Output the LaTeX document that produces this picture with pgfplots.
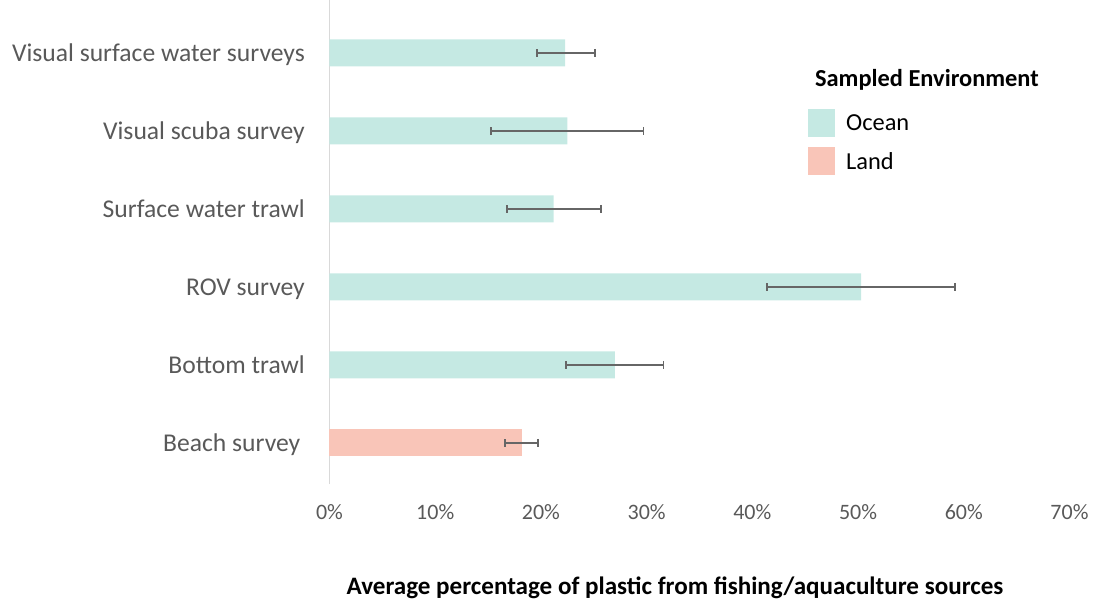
\documentclass[border=0pt]{standalone}
\usepackage{pgfplots}
\pgfplotsset{compat=1.18}
\usepackage{pgfplotstable}
\usepackage{fontspec}
\setmainfont{Carlito}
\definecolor{ocean}{HTML}{C5E9E3}
\definecolor{land}{HTML}{F9C5B8}
\definecolor{errc}{HTML}{666666}
\definecolor{lab}{HTML}{595959}
\definecolor{axl}{HTML}{D9D9D9}

\pgfplotstableread{
pos val ep em
1 27.0 4.6 4.6
2 50.3 8.9 8.9
3 21.2 4.5 4.4
4 22.5 7.2 7.2
5 22.3 2.8 2.7
}\oceantab
\pgfplotstableread{
pos val ep em
0 18.2 1.5 1.6
}\landtab

\pgfplotsset{myerr/.style={draw=none, mark=none, forget plot,
  error bars/.cd, x dir=both, x explicit, error mark=|,
  error bar style={draw=errc, line width=1.8pt},
  error mark options={draw=errc, mark size=4pt, line width=1.8pt, rotate=0}}}

\begin{document}
\begin{tikzpicture}
\begin{axis}[
 at={(0pt,0pt)}, anchor=north west,
 scale only axis, width=740pt, height=484pt,
 xmin=0, xmax=70, ymin=-0.526, ymax=5.679,
 clip=false,
 bar width=27pt, bar shift=0pt,
 axis x line*=bottom, axis y line*=left,
 x axis line style={draw=none},
 y axis line style={draw=axl, line width=1pt},
 major tick length=0pt,
 xtick={0,10,...,70},
 /pgf/number format/assume math mode=true,
 xticklabel={\pgfmathprintnumber{\tick}\%},
 xticklabel style={font=\fontsize{22}{26}\selectfont, text=lab, anchor=center, yshift=-28pt},
 ytick={0,...,5},
 yticklabels={Beach survey\kern4.5pt, Bottom trawl, ROV survey, Surface water trawl, Visual scuba survey, Visual surface water surveys},
 yticklabel style={font=\fontsize{25.6}{30}\selectfont, text=lab, anchor=base east, inner sep=0pt, xshift=-24.5pt, yshift=-8.3pt},
 legend cell align=left,
 legend style={at={(axis description cs:0.6466,0.7746)}, anchor=north west, draw=none, fill=none,
   font=\fontsize{24.4}{28}\selectfont, row sep=10pt, column sep=9pt, inner sep=0pt},
 legend image code/.code={\fill[#1] (0pt,-14pt) rectangle (27pt,14pt);},
]
\addplot[xbar, draw=none, fill=ocean] table[x=val, y=pos] {\oceantab};
\addlegendentry{Ocean}
\addplot[xbar, draw=none, fill=land] table[x=val, y=pos] {\landtab};
\addlegendentry{Land}
\addplot[myerr] table[x=val, y=pos, x error plus=ep, x error minus=em] {\oceantab};
\addplot[myerr] table[x=val, y=pos, x error plus=ep, x error minus=em] {\landtab};
\node[font=\bfseries\fontsize{24.4}{28}\selectfont, anchor=west, inner sep=0pt] at (axis description cs:0.656,0.8347) {Sampled Environment};
\node[font=\bfseries\fontsize{25.1}{29}\selectfont, inner sep=0pt] at (axis description cs:0.467,-0.215) {Average percentage of plastic from fishing/aquaculture sources};
\end{axis}
\pgfresetboundingbox
\path[use as bounding box] (-329.5pt,-603pt) rectangle (766.5pt,0pt);
\end{tikzpicture}
\end{document}
